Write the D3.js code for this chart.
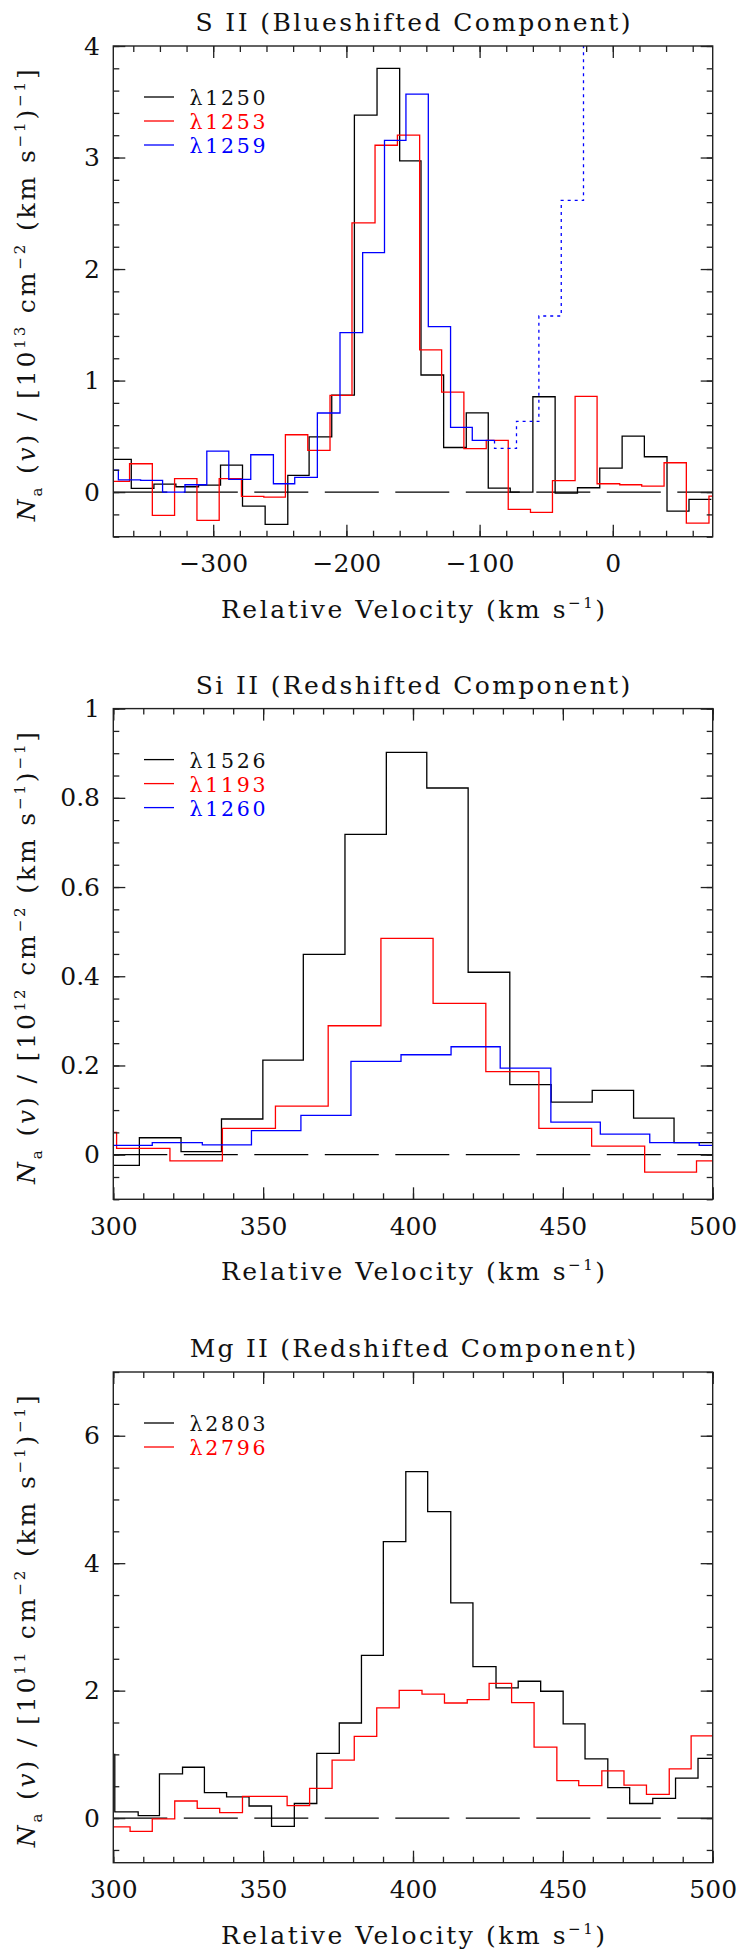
<!DOCTYPE html>
<html>
<head>
<meta charset="utf-8">
<script src="https://cdn.jsdelivr.net/npm/d3@7"></script>
<style>
body { margin: 0; background: #fff; }
text { font-family: "DejaVu Serif", serif; }
</style>
</head>
<body>
<script>
// ---- S II (blueshifted) : bin edges (km/s) and Na(v) values (1e13)
var s1250Edges = [-378.5, -361.5, -344.5, -328, -311, -294.5, -278, -261, -244, -228, -211, -194, -177, -160, -144, -127, -110, -93.5, -77, -60, -43.3, -26.5, -9.8, 7, 23.7, 40.7, 57.2, 74];
var s1250Vals = [0.293, 0.033, 0.072, 0.048, 0.063, 0.242, -0.126, -0.29, 0.149, 0.496, 0.87, 3.38, 3.80, 2.97, 1.05, 0.40, 0.711, 0.036, 0.0, 0.855, -0.009, 0.039, 0.215, 0.502, 0.317, -0.17, -0.066];
var s1253Edges = [-380, -362.8, -345.7, -329, -312.2, -295.5, -278.8, -262, -245.8, -229, -212.3, -195.8, -178.5, -161.7, -145, -128.5, -111.8, -95, -78.5, -61.8, -45.3, -28.3, -11.8, 5.2, 21.7, 38.5, 55.2, 72.2, 89];
var s1253Vals = [0.096, 0.254, -0.209, 0.12, -0.254, 0.12, -0.039, -0.045, 0.514, 0.374, 0.867, 2.414, 3.11, 3.20, 1.275, 0.897, 0.389, 0.463, -0.155, -0.182, 0.102, 0.858, 0.075, 0.066, 0.054, 0.263, -0.278, -0.036];
var s1259Edges = [-380, -371.2, -354.5, -338, -321.2, -304.8, -288.3, -271.8, -254.8, -238.8, -221.8, -204.8, -187.8, -171.4, -155.3, -138.5, -121.8, -105.5, -88.8];
var s1259Vals = [0.197, 0.11, 0.105, 0.0, 0.066, 0.368, 0.114, 0.335, 0.075, 0.132, 0.709, 1.43, 2.147, 3.154, 3.568, 1.484, 0.58, 0.463];
// blended part of lambda1259, drawn dotted
var s1259bEdges = [-88.8, -72.3, -55.5, -38.7, -22, -5];
var s1259bVals = [0.392, 0.634, 1.579, 2.615, 5.0];

// ---- Si II (redshifted) (1e12)
var si1526Edges = [294.9, 308.7, 322.6, 336.1, 349.9, 363.4, 377.3, 391.1, 404.6, 418.4, 432.3, 446.1, 459.8, 473.6, 487.1, 500.9];
var si1526Vals = [-0.024, 0.038, 0.007, 0.080, 0.212, 0.449, 0.718, 0.902, 0.822, 0.409, 0.157, 0.118, 0.144, 0.082, 0.027];
var si1193Edges = [283.5, 301.1, 318.9, 336.4, 354.1, 371.7, 389.3, 406.7, 424.3, 442.0, 459.6, 477.3, 494.6, 512];
var si1193Vals = [0.05, 0.014, -0.014, 0.059, 0.109, 0.289, 0.485, 0.339, 0.186, 0.059, 0.019, -0.039, -0.014];
var si1260Edges = [296.4, 313.0, 329.7, 346.1, 362.6, 379.3, 396.0, 412.7, 429.1, 446.0, 462.5, 479.0, 495.5, 512];
var si1260Vals = [0.021, 0.027, 0.022, 0.054, 0.088, 0.209, 0.224, 0.242, 0.194, 0.073, 0.046, 0.027, 0.021];

// ---- Mg II (redshifted) (1e11)
var mg2803Edges = [292.8, 300.5, 308.3, 315.4, 323.1, 330.4, 337.8, 345.3, 352.8, 360.4, 367.9, 375.4, 382.8, 390.1, 397.6, 404.9, 412.6, 420.0, 427.7, 435.1, 442.6, 450.1, 457.4, 465.0, 472.3, 480.0, 487.6, 495.1, 502.6];
var mg2803Vals = [1.0, 0.098, 0.039, 0.694, 0.798, 0.40, 0.334, 0.19, -0.131, 0.229, 1.014, 1.492, 2.552, 4.339, 5.438, 4.81, 3.377, 2.376, 2.042, 2.147, 1.99, 1.479, 0.929, 0.478, 0.229, 0.308, 0.628, 0.936];
var mg2796Edges = [298.1, 305.6, 313.0, 320.5, 328.0, 335.5, 343.1, 350.4, 358.0, 365.5, 373.0, 380.4, 387.9, 395.4, 403.0, 410.5, 418.1, 425.4, 432.9, 440.4, 448.0, 455.3, 463.0, 470.4, 477.9, 485.5, 492.8, 500.3];
var mg2796Vals = [-0.137, -0.209, -0.013, 0.268, 0.151, 0.085, 0.34, 0.34, 0.196, 0.465, 0.91, 1.283, 1.728, 2.003, 1.944, 1.806, 1.859, 2.114, 1.813, 1.113, 0.589, 0.51, 0.74, 0.517, 0.373, 0.772, 1.289];

var titles = ["S II (Blueshifted Component)", "Si II (Redshifted Component)", "Mg II (Redshifted Component)"];
var exponents = ["13", "12", "11"];
var xDomains = [[-375, 75], [300, 500], [300, 500]];
var yDomains = [[-0.4, 4], [-0.1, 1], [-0.7, 7]];
var xMajor = [[-300, -200, -100, 0], [300, 350, 400, 450, 500], [300, 350, 400, 450, 500]];
var xMinorStep = [20, 10, 10];
var yMajor = [[0, 1, 2, 3, 4], [0, 0.2, 0.4, 0.6, 0.8, 1], [0, 2, 4, 6]];
var yMinorStep = [0.2, 0.05, 0.5];
var legendNames = [["λ1250", "λ1253", "λ1259"], ["λ1526", "λ1193", "λ1260"], ["λ2803", "λ2796"]];
var lineColors = ["#000", "#ff0000", "#0000ff"];

var series = [
	[[s1250Edges, s1250Vals], [s1253Edges, s1253Vals], [s1259Edges, s1259Vals]],
	[[si1526Edges, si1526Vals], [si1193Edges, si1193Vals], [si1260Edges, si1260Vals]],
	[[mg2803Edges, mg2803Vals], [mg2796Edges, mg2796Vals]]
];

var W = 747, H = 1954;
var left = 113.3, right = 712.7, ph = 490.7;
var tops = [46, 708.6, 1372];
var titleW = [435, 434.5, 446.4];

var svg = d3.select("body").append("svg")
	.attr("width", W)
	.attr("height", H);

function minorTicks(dom, step) {
	var out = [];
	var start = Math.ceil(dom[0] / step - 1e-9);
	for (var k = start; k * step <= dom[1] + 1e-9; k++) out.push(+(k * step).toFixed(4));
	return out;
}

var fmt = d3.format("");

titles.forEach(function(title, i) {
	var top = tops[i], bottom = top + ph;
	var x = d3.scaleLinear().domain(xDomains[i]).range([left, right]);
	var y = d3.scaleLinear().domain(yDomains[i]).range([bottom, top]);
	var g = svg.append("g");

	// clip
	var cid = "clip" + i;
	svg.append("clipPath").attr("id", cid)
		.append("rect")
		.attr("x", left).attr("y", top)
		.attr("width", right - left).attr("height", ph);

	var line = d3.line()
		.x(function(d) { return x(d[0]); })
		.y(function(d) { return y(d[1]); })
		.curve(d3.curveStepAfter);

	function pts(edges, vals) {
		var p = vals.map(function(v, k) { return [edges[k], v]; });
		p.push([edges[edges.length - 1], vals[vals.length - 1]]);
		return p;
	}

	var plot = g.append("g").attr("clip-path", "url(#" + cid + ")");

	// zero line
	plot.append("line")
		.attr("x1", left).attr("x2", right)
		.attr("y1", y(0)).attr("y2", y(0))
		.attr("stroke", "#000")
		.attr("stroke-width", 1.2)
		.attr("stroke-dasharray", "54,16.5");

	series[i].forEach(function(s, j) {
		plot.append("path")
			.attr("d", line(pts(s[0], s[1])))
			.attr("fill", "none")
			.attr("stroke", lineColors[j])
			.attr("stroke-width", 1.3);
	});

	if (i === 0) {
		var p = [[s1259Edges[s1259Edges.length - 1], s1259Vals[s1259Vals.length - 1]]].concat(pts(s1259bEdges, s1259bVals));
		plot.append("path")
			.attr("d", line(p))
			.attr("fill", "none")
			.attr("stroke", "#0000ff")
			.attr("stroke-width", 1.3)
			.attr("stroke-dasharray", "3,4");
	}

	// frame
	g.append("rect")
		.attr("x", left).attr("y", top)
		.attr("width", right - left).attr("height", ph)
		.attr("fill", "none")
		.attr("stroke", "#222")
		.attr("stroke-width", 1.4);

	// ticks (inward, all four sides)
	var xMin = minorTicks(xDomains[i], xMinorStep[i]);
	var yMin = minorTicks(yDomains[i], yMinorStep[i]);
	var ax = [
		[d3.axisBottom(x), bottom, "x"], [d3.axisTop(x), top, "x"],
		[d3.axisLeft(y), left, "y"], [d3.axisRight(y), right, "y"]
	];
	ax.forEach(function(a) {
		var isX = a[2] === "x";
		var tr = isX ? "translate(0," + a[1] + ")" : "translate(" + a[1] + ",0)";
		var gm = g.append("g").attr("transform", tr)
			.call(a[0].tickValues(isX ? xMin : yMin).tickSize(-6).tickSizeOuter(0).tickFormat(""));
		gm.select(".domain").remove();
		gm.selectAll("line").attr("stroke", "#222").attr("stroke-width", 1.3);
	});

	var axB = g.append("g").attr("transform", "translate(0," + bottom + ")")
		.call(d3.axisBottom(x).tickValues(xMajor[i]).tickSize(-12).tickSizeOuter(0).tickPadding(18).tickFormat(fmt));
	var axT = g.append("g").attr("transform", "translate(0," + top + ")")
		.call(d3.axisTop(x).tickValues(xMajor[i]).tickSize(-12).tickSizeOuter(0).tickFormat(""));
	var axL = g.append("g").attr("transform", "translate(" + left + ",0)")
		.call(d3.axisLeft(y).tickValues(yMajor[i]).tickSize(-12).tickSizeOuter(0).tickPadding(13.3).tickFormat(fmt));
	var axR = g.append("g").attr("transform", "translate(" + right + ",0)")
		.call(d3.axisRight(y).tickValues(yMajor[i]).tickSize(-12).tickSizeOuter(0).tickFormat(""));
	[axB, axT, axL, axR].forEach(function(a) {
		a.select(".domain").remove();
		a.selectAll("line").attr("stroke", "#222").attr("stroke-width", 1.3);
		a.selectAll("text")
			.attr("fill", "#111")
			.style("font-family", "'DejaVu Serif', serif")
			.style("font-size", "25px");
	});

	// title
	g.append("text")
		.attr("x", (left + right) / 2)
		.attr("y", top - 15)
		.attr("text-anchor", "middle")
		.attr("textLength", titleW[i])
		.attr("lengthAdjust", "spacing")
		.style("font-size", "25px")
		.attr("fill", "#111")
		.text(title);

	// x label
	var xl = g.append("text")
		.attr("x", (left + right) / 2)
		.attr("y", bottom + 81)
		.attr("text-anchor", "middle")
		.attr("textLength", 384)
		.attr("lengthAdjust", "spacing")
		.style("font-size", "25px")
		.attr("fill", "#111");
	xl.append("tspan").text("Relative Velocity (km s");
	xl.append("tspan").attr("dy", -10).style("font-size", "15px").text("−1");
	xl.append("tspan").attr("dy", 10).text(")");

	// y label
	var cy = (top + bottom) / 2 + 4;
	var yl = g.append("text")
		.attr("transform", "translate(35," + cy + ") rotate(-90)")
		.attr("text-anchor", "middle")
		.attr("textLength", 452)
		.attr("lengthAdjust", "spacing")
		.style("font-size", "25px")
		.attr("fill", "#111");
	var parts = [
		["N", 0, "italic"], ["a", 7, "sub"], [" (", -7, ""], ["v", 0, "italic"], [") / [10", 0, ""],
		[exponents[i], -10, "sup"], [" cm", 10, ""], ["−2", -10, "sup"], [" (km s", 10, ""],
		["−1", -10, "sup"], [")", 10, ""], ["−1", -10, "sup"], ["]", 10, ""]
	];
	parts.forEach(function(pt) {
		var t = yl.append("tspan").attr("dy", pt[1]).text(pt[0]);
		if (pt[2] === "italic") t.style("font-style", "italic");
		if (pt[2] === "sub" || pt[2] === "sup") t.style("font-size", "15px");
	});

	// legend
	legendNames[i].forEach(function(name, j) {
		var ly = top + 51 + j * 24;
		g.append("line")
			.attr("x1", 144).attr("x2", 174)
			.attr("y1", ly).attr("y2", ly)
			.attr("stroke", lineColors[j])
			.attr("stroke-width", 1.3);
		g.append("text")
			.attr("x", 189.6)
			.attr("y", ly + 8)
			.attr("textLength", 76)
			.attr("lengthAdjust", "spacing")
			.style("font-size", "20.5px")
			.attr("fill", j === 0 ? "#111" : lineColors[j])
			.text(name);
	});
});
</script>
</body>
</html>
